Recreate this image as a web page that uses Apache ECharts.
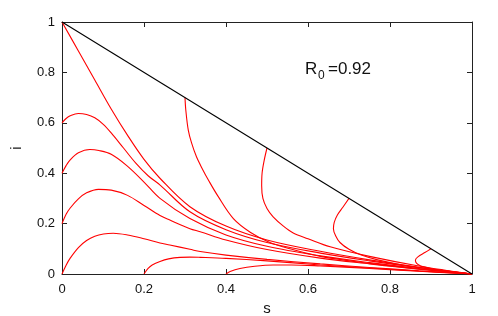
<!DOCTYPE html>
<html><head><meta charset="utf-8">
<script src="https://cdn.jsdelivr.net/npm/echarts@6/dist/echarts.min.js"></script>
<style>html,body{margin:0;padding:0;background:#fff}#c{width:498px;height:316px}</style>
</head><body><div id="c"></div>
<script>
var xTicks = [0, 0.2, 0.4, 0.6, 0.8, 1];
var yTicks = [0, 0.2, 0.4, 0.6, 0.8, 1];
var annotation = "R0=0.92";
var boundary = [[0,1],[1,0]];
var c1 = [[0,1],[0.04,0.885],[0.08,0.77],[0.12,0.655],[0.16,0.55],[0.20,0.455],[0.24,0.378],[0.312,0.267],[0.40,0.19],[0.50,0.135],[0.63,0.09],[0.75,0.056],[0.87,0.027],[1,0]];
var c2 = [[0,0.6],[0.01,0.617],[0.02,0.628],[0.04,0.637],[0.06,0.633],[0.08,0.62],[0.10,0.595],[0.12,0.56],[0.15,0.5],[0.18,0.44],[0.21,0.39],[0.24,0.352],[0.312,0.247],[0.40,0.176],[0.50,0.125],[0.63,0.083],[0.75,0.052],[0.87,0.025],[1,0]];
var c3 = [[0,0.4],[0.01,0.43],[0.02,0.453],[0.04,0.481],[0.068,0.494],[0.09,0.49],[0.12,0.475],[0.158,0.43],[0.20,0.365],[0.239,0.30],[0.312,0.22],[0.40,0.155],[0.50,0.11],[0.63,0.072],[0.75,0.045],[0.87,0.022],[1,0]];
var c4 = [[0,0.2],[0.01,0.237],[0.02,0.262],[0.04,0.298],[0.06,0.322],[0.089,0.336],[0.12,0.333],[0.16,0.312],[0.20,0.272],[0.239,0.232],[0.263,0.214],[0.312,0.18],[0.337,0.168],[0.40,0.135],[0.50,0.097],[0.63,0.063],[0.75,0.04],[0.87,0.019],[1,0]];
var c5 = [[0,0],[0.01,0.035],[0.02,0.063],[0.04,0.105],[0.06,0.133],[0.08,0.15],[0.101,0.159],[0.125,0.162],[0.16,0.155],[0.2,0.14],[0.239,0.123],[0.263,0.115],[0.312,0.098],[0.337,0.089],[0.40,0.075],[0.50,0.058],[0.63,0.04],[0.75,0.026],[0.87,0.013],[1,0]];
var c6 = [[0.2,0],[0.21,0.022],[0.22,0.036],[0.239,0.05],[0.26,0.06],[0.288,0.066],[0.312,0.067],[0.337,0.066],[0.40,0.062],[0.50,0.052],[0.63,0.036],[0.75,0.024],[0.87,0.012],[1,0]];
var c7 = [[0.4,0],[0.41,0.01],[0.434,0.022],[0.47,0.031],[0.515,0.036],[0.56,0.036],[0.63,0.032],[0.75,0.022],[0.87,0.011],[1,0]];
var c9 = [[0.3,0.7],[0.302,0.65],[0.308,0.571],[0.316,0.52],[0.328,0.465],[0.343,0.415],[0.357,0.373],[0.38,0.31],[0.418,0.22],[0.46,0.165],[0.507,0.125],[0.556,0.10],[0.63,0.07],[0.75,0.042],[0.87,0.02],[1,0]];
var c10 = [[0.5,0.5],[0.493,0.45],[0.488,0.40],[0.487,0.35],[0.49,0.30],[0.50,0.26],[0.515,0.227],[0.54,0.19],[0.564,0.163],[0.60,0.14],[0.654,0.108],[0.75,0.07],[0.87,0.032],[1,0]];
var c11 = [[0.7,0.3],[0.685,0.265],[0.672,0.235],[0.664,0.205],[0.662,0.18],[0.668,0.15],[0.678,0.125],[0.70,0.098],[0.73,0.075],[0.77,0.056],[0.83,0.036],[0.9,0.02],[1,0]];
var c12 = [[0.9,0.1],[0.885,0.085],[0.868,0.068],[0.862,0.055],[0.865,0.042],[0.875,0.032],[0.9,0.022],[0.93,0.014],[0.96,0.007],[1,0]];
var redCurves = [c1,c2,c3,c4,c5,c6,c7,c9,c10,c11,c12];

var chart = echarts.init(document.getElementById('c'), null, {renderer:'canvas'});
var font = 'Liberation Sans, Arial, sans-serif';
var axCol = '#222';
function axis(pos, show, extra) {
  var a = {
    type:'value', position:pos, min:0, max:1, interval:0.2,
    axisLine:{show:true, onZero:false, lineStyle:{color:axCol, width:1}},
    axisTick:{show:true, inside:true, length:5, lineStyle:{color:axCol}},
    axisLabel:{show:show, color:'#111', fontSize:13, fontFamily:font, margin:(pos==='bottom'?9:7)},
    splitLine:{show:false}
  };
  return Object.assign(a, extra||{});
}
var series = [{
  type:'line', data:boundary, xAxisIndex:0, yAxisIndex:0, symbol:'none',
  lineStyle:{color:'#000', width:1.1}, z:3
}];
redCurves.forEach(function(c){
  series.push({type:'line', data:c, xAxisIndex:0, yAxisIndex:0, symbol:'none', smooth:0.35,
    lineStyle:{color:'#ff0000', width:1.1}, z:2});
});
chart.setOption({
  animation:false,
  grid:{left:62, right:26, top:22, bottom:42, containLabel:false, outerBoundsMode:'none'},
  xAxis:[axis('bottom', true, {name:'s', nameLocation:'middle', nameGap:23, nameTextStyle:{fontSize:15, fontFamily:font, color:'#111'}}),
         axis('top', false)],
  yAxis:[axis('left', true, {name:'i', nameLocation:'middle', nameGap:38, nameTextStyle:{fontSize:15, fontFamily:font, color:'#111'}}),
         axis('right', false)],
  series:series,
  graphic:[
    {type:'text', left:305, top:61, style:{text:'R', font:'17px '+font, fill:'#111'}},
    {type:'text', left:318, top:70, style:{text:'0', font:'12px '+font, fill:'#111'}},
    {type:'text', left:328, top:61, style:{text:'=0.92', font:'17px '+font, fill:'#111'}}
  ]
});
</script></body></html>
